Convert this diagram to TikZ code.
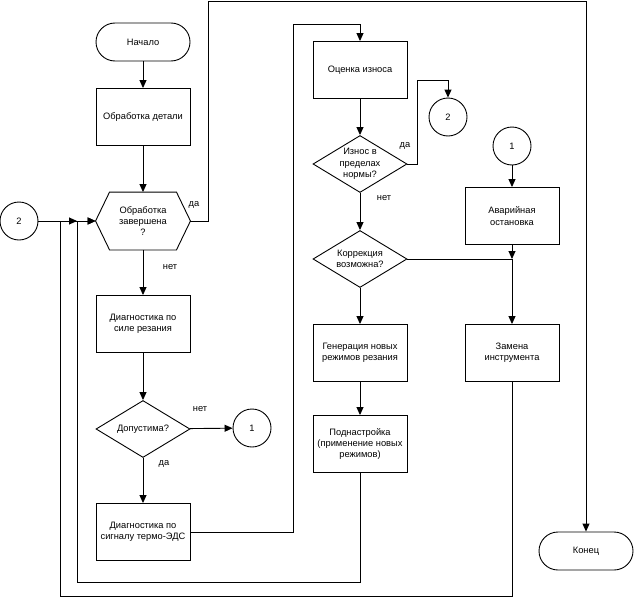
\documentclass[tikz,border=0pt]{standalone}
\usepackage{fontspec}
\setmainfont{Liberation Sans}
\usetikzlibrary{shapes.geometric,arrows.meta}

\begin{document}
\begin{tikzpicture}[x=1pt,y=-1pt]
  % some colors
  \colorlet{lines}{black}
  % some styles
  \tikzset{
    base/.style={
      draw=lines,
      line width=.9pt,
      align=center,
      inner sep=2pt,
      font=\fontsize{9.3}{11.3}\selectfont,
    },
    proc/.style={base,rectangle,minimum width=94pt,minimum height=57pt},
    term/.style={base,rectangle,rounded corners=19pt,minimum width=94pt,minimum height=38pt},
    hexa/.style={base,draw=none,rectangle,minimum width=94pt,minimum height=57pt},
    decision/.style={base,diamond,aspect=1.65,inner sep=0pt,minimum width=94pt,minimum height=57pt},
    conn/.style={base,circle,minimum size=38pt},
    link/.style={-{Triangle[length=8pt,width=7pt]},lines,line width=.9pt},
    wire/.style={lines,line width=.9pt},
    lbl/.style={font=\fontsize{9.3}{11.3}\selectfont,inner sep=0pt},
  }
  \useasboundingbox (0,0) rectangle (634,597);

  % left column
  \node[term] (start) at (143,42) {Начало};
  \node[proc] (det) at (143,117) {Обработка детали};
  \node[hexa] (done) at (143,221) {Обработка\\завершена\\?};
  \draw[wire] (done.west) -- ([xshift=14pt]done.north west) -- ([xshift=-14pt]done.north east)
    -- (done.east) -- ([xshift=-14pt]done.south east) -- ([xshift=14pt]done.south west) -- cycle;
  \node[proc] (diag1) at (143,324) {Диагностика по\\силе резания};
  \node[decision] (ok) at (143,429) {Допустима?};
  \node[proc] (diag2) at (143,532) {Диагностика по\\сигналу термо-ЭДС};

  % middle column
  \node[proc] (wear) at (360,70) {Оценка износа};
  \node[decision] (norm) at (360,164) {Износ в\\пределах\\нормы?};
  \node[decision] (corr) at (360,259) {Коррекция\\возможна?};
  \node[proc] (gen) at (360,353) {Генерация новых\\режимов резания};
  \node[proc] (adj) at (360,444) {Поднастройка\\(применение новых\\режимов)};

  % right column
  \node[conn] (c1b) at (512,146) {1};
  \node[proc] (avar) at (512,216) {Аварийная\\остановка};
  \node[proc] (zam) at (512,353) {Замена\\инструмента};
  \node[term] (end) at (586,551) {Конец};

  % connectors
  \node[conn] (c2a) at (19,221) {2};
  \node[conn] (c1a) at (252,428) {1};
  \node[conn] (c2b) at (448,117) {2};

  % arrows
  \draw[link] (start) -- (det);
  \draw[link] (det) -- (done);
  \draw[link] (done) -- (diag1);
  \draw[link] (diag1) -- (ok);
  \draw[link] (ok) -- (c1a);
  \draw[link] (ok) -- (diag2);
  \draw[link] (diag2.east) -| (293,24) -| (wear.north);
  \draw[link] (done.east) -| (208,1) -| (end.north);
  \draw[link] (wear) -- (norm);
  \draw[link] (norm.east) -| (417,80) -| (c2b.north);
  \draw[link] (norm) -- (corr);
  \draw[link] (corr) -- (gen);
  \draw[link] (gen) -- (adj);
  \draw[link] (c1b) -- (avar);
  \coordinate (join) at (avar.south |- corr.east);
  \draw[wire] (corr.east) -- (join);
  \draw[link] (avar.south) -- (join);
  \draw[link] (join) -- (zam.north);
  \draw[link] (c2a) -- (done.west);
  \draw[link] (adj.south) |- (77,582) |- (done.west);
  \draw[link] (zam.south) |- (60,596) |- (77,221);

  % labels
  \node[lbl] (yes1) at (194,205) {да};
  \node[lbl] (no1) at (170,267) {нет};
  \node[lbl] (no2) at (200,409) {нет};
  \node[lbl] (yes2) at (164,464) {да};
  \node[lbl] (yes3) at (405,146) {да};
  \node[lbl] (no3) at (384,198) {нет};
\end{tikzpicture}
\end{document}
